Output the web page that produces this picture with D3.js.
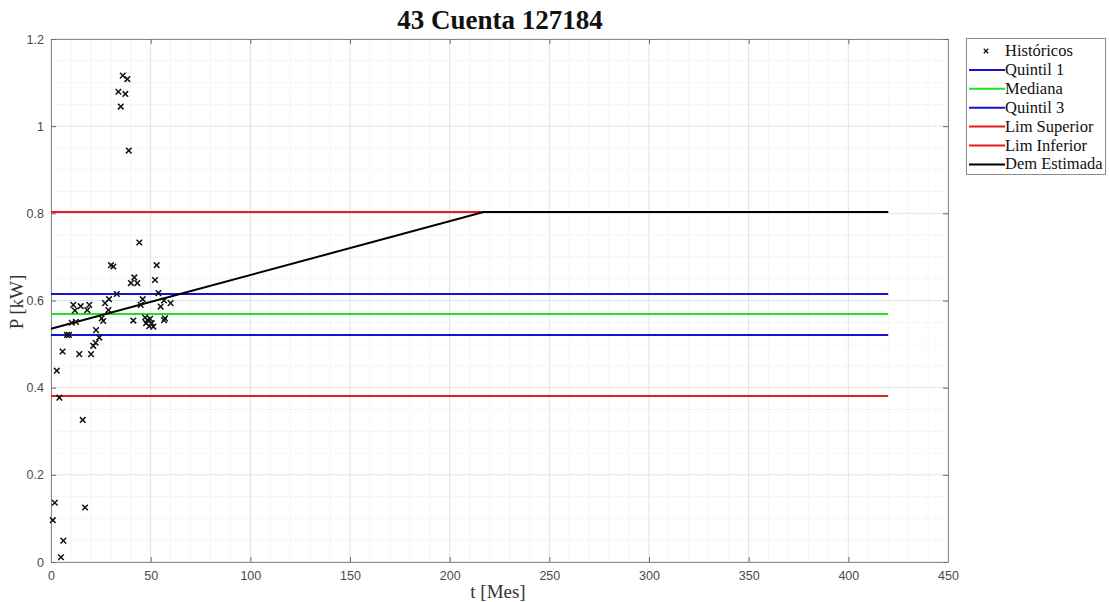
<!DOCTYPE html>
<html><head><meta charset="utf-8">
<script src="https://cdn.jsdelivr.net/npm/d3@7"></script>
<style>body{margin:0;background:#fff}svg{display:block}</style>
</head><body>
<svg id="c" width="1109" height="602"></svg>
<script>
const title = "43 Cuenta 127184";
const xLabel = "t [Mes]";
const yLabel = "P [kW]";
const xTicks = [0,50,100,150,200,250,300,350,400,450];
const yTicks = [0,0.2,0.4,0.6,0.8,1,1.2];
const yTickLabels = ["0","0.2","0.4","0.6","0.8","1","1.2"];
// Históricos [t, P]
const historicT = [0.9,1.9,2.9,4.2,5,6.2,5.8,8,9,10.4,11.2,12,12.5,14.2,14.9,15.9,17.1,18.2,19.2,20.1,21.2,22.4,22.6,24.2,25.4,26.2,27.1,28.8,29.1,30.1,31.3,33,33.8,35,36,37.3,38.3,39,40.1,41.3,41.8,43.3,44.3,45,46,47.2,47.7,48.3,49.3,49.7,50.5,51.3,52.2,53,53.9,55,56.7,56.7,57.2,60];
const historicP = [0.096,0.136,0.439,0.377,0.011,0.049,0.483,0.521,0.521,0.549,0.59,0.577,0.551,0.477,0.587,0.326,0.125,0.578,0.59,0.477,0.496,0.503,0.532,0.515,0.559,0.553,0.594,0.578,0.603,0.681,0.678,0.615,1.079,1.045,1.116,1.074,1.108,0.944,0.64,0.554,0.653,0.64,0.733,0.59,0.603,0.561,0.548,0.555,0.541,0.558,0.548,0.54,0.647,0.681,0.617,0.586,0.6,0.555,0.559,0.594];
const seriesNames = ["Quintil 1","Mediana","Quintil 3","Lim Superior","Lim Inferior","Dem Estimada"];
const seriesColors = ["#1414d2","#22e022","#1414d2","#e81c1c","#e81c1c","#000000"];
const hlineValues = [0.521,0.569,0.615,0.803,0.381];
const hlineT = [0,420];
const demT = [0,217,420];
const demP = [0.535,0.803,0.803];

const svg = d3.select("#c");
const L=51,R=948,T=39,B=562;
const x = d3.scaleLinear().domain([0,450]).range([L,R]);
const y = d3.scaleLinear().domain([0,1.2]).range([B,T]);
const g = svg.append("g");

// minor grid
g.selectAll(".mx").data(d3.range(0,451,10).filter(v=>v%50)).join("line")
 .attr("x1",d=>x(d)).attr("x2",d=>x(d)).attr("y1",T).attr("y2",B)
 .attr("stroke","#ececec").attr("stroke-width",1).attr("stroke-dasharray","1,1");
g.selectAll(".my").data(d3.range(0,1.2001,0.05).filter((v,i)=>i%4)).join("line")
 .attr("y1",d=>y(d)).attr("y2",d=>y(d)).attr("x1",L).attr("x2",R)
 .attr("stroke","#ececec").attr("stroke-width",1).attr("stroke-dasharray","1,1");
// major grid
g.selectAll(".gx").data(xTicks).join("line")
 .attr("x1",d=>x(d)).attr("x2",d=>x(d)).attr("y1",T).attr("y2",B)
 .attr("stroke","#e2e2e2").attr("stroke-width",1);
g.selectAll(".gy").data(yTicks).join("line")
 .attr("y1",d=>y(d)).attr("y2",d=>y(d)).attr("x1",L).attr("x2",R)
 .attr("stroke","#e2e2e2").attr("stroke-width",1);

// axes
const ax = d3.axisBottom(x).tickValues(xTicks).tickSizeInner(-5).tickSizeOuter(0).tickPadding(9);
const axT = d3.axisTop(x).tickValues(xTicks).tickSizeInner(-5).tickSizeOuter(0).tickFormat("");
const ay = d3.axisLeft(y).tickValues(yTicks).tickSizeInner(-5).tickSizeOuter(0).tickPadding(7).tickFormat((d,i)=>yTickLabels[i]);
const ayR = d3.axisRight(y).tickValues(yTicks).tickSizeInner(-5).tickSizeOuter(0).tickFormat("");
function style(sel){
  sel.selectAll("path").attr("stroke","#8a8a8a");
  sel.selectAll("line").attr("stroke","#6a6a6a");
  sel.selectAll("text").attr("fill","#4a4a4a").style("font-family","Liberation Sans, Arial, sans-serif").style("font-size","12.5px");
}
g.append("g").attr("transform",`translate(0,${B})`).call(ax).call(style);
g.append("g").attr("transform",`translate(0,${T})`).call(axT).call(style);
g.append("g").attr("transform",`translate(${L},0)`).call(ay).call(style);
g.append("g").attr("transform",`translate(${R},0)`).call(ayR).call(style);

// horizontal lines
const line = d3.line().x(d=>x(d[0])).y(d=>y(d[1]));
hlineValues.forEach((v,i)=>{
  g.append("path").datum(hlineT.map(t=>[t,v])).attr("d",line)
   .attr("stroke",seriesColors[i]).attr("stroke-width",2).attr("fill","none");
});
// Dem Estimada
g.append("path").datum(demT.map((t,i)=>[t,demP[i]])).attr("d",line)
 .attr("stroke",seriesColors[5]).attr("stroke-width",2).attr("fill","none");

// markers
const ms=2.8;
g.selectAll(".pt").data(historicT.map((t,i)=>[t,historicP[i]])).join("path")
 .attr("d",d=>{const cx=x(d[0]),cy=y(d[1]);return `M${cx-ms},${cy-ms}L${cx+ms},${cy+ms}M${cx-ms},${cy+ms}L${cx+ms},${cy-ms}`;})
 .attr("stroke","#111").attr("stroke-width",1.5).attr("fill","none");

// title & labels
svg.append("text").attr("x",500).attr("y",29).attr("text-anchor","middle")
 .style("font-family","Liberation Serif, Times New Roman, serif").style("font-weight","bold").style("font-size","27px").attr("fill","#111").text(title);
svg.append("text").attr("x",498).attr("y",598).attr("text-anchor","middle")
 .style("font-family","Liberation Serif, Times New Roman, serif").style("font-size","19px").attr("fill","#333").text(xLabel);
svg.append("text").attr("transform","translate(23,302) rotate(-90)").attr("text-anchor","middle")
 .style("font-family","Liberation Serif, Times New Roman, serif").style("font-size","19px").attr("fill","#333").text(yLabel);

// legend
const lg = svg.append("g");
lg.append("rect").attr("x",966.5).attr("y",38.5).attr("width",139).attr("height",136)
 .attr("fill","#fff").attr("stroke","#8a8a8a").attr("stroke-width",1);
const names = ["Históricos"].concat(seriesNames);
names.forEach((n,i)=>{
  const yy = 51 + i*18.9;
  if(i===0){
    const cx=986, s=2.2;
    lg.append("path").attr("d",`M${cx-s},${yy-s}L${cx+s},${yy+s}M${cx-s},${yy+s}L${cx+s},${yy-s}`)
      .attr("stroke","#111").attr("stroke-width",1.3);
  } else {
    lg.append("line").attr("x1",969).attr("x2",1005).attr("y1",yy).attr("y2",yy)
      .attr("stroke",seriesColors[i-1]).attr("stroke-width",2);
  }
  lg.append("text").attr("x",1005).attr("y",yy+5)
   .style("font-family","Liberation Serif, Times New Roman, serif").style("font-size","16.5px").attr("fill","#111").text(n);
});
</script>
</body></html>
